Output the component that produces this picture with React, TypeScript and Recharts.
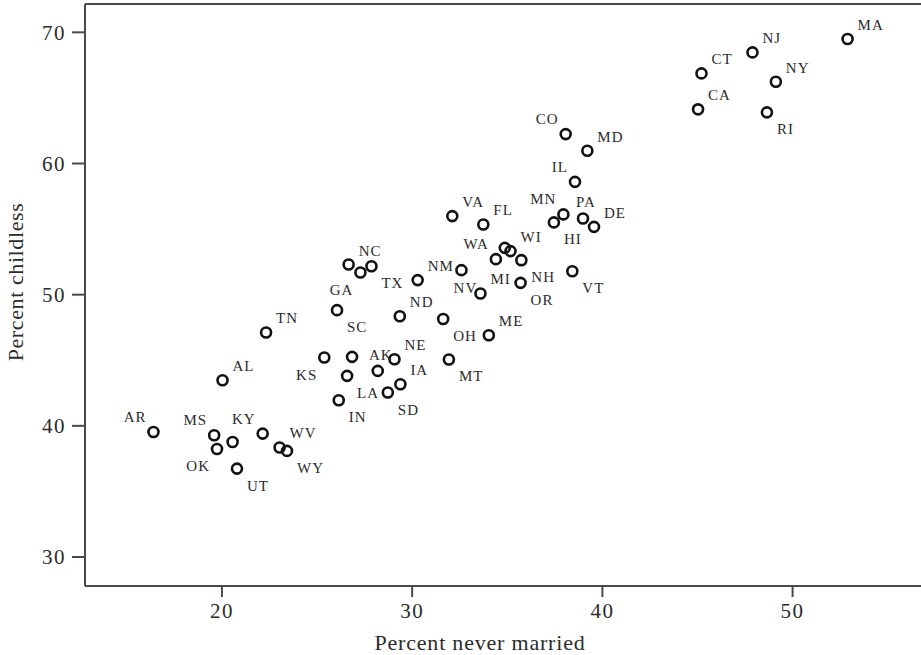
import { ScatterChart, Scatter, XAxis, YAxis, ReferenceLine } from "recharts";

// States (AZ, ID, MO are plotted without a label)
const STATES = [
  "MA", "NJ", "CT", "NY", "CA", "RI", "CO", "MD", "IL", "MN",
  "HI", "PA", "DE", "VT", "VA", "FL", "WA", "WI", "AZ", "NH",
  "OR", "NM", "NV", "MI", "TX", "NC", "GA", "SC", "ND", "OH",
  "ME", "TN", "KS", "MO", "NE", "AK", "MT", "LA", "IA", "SD",
  "IN", "AL", "AR", "MS", "OK", "ID", "KY", "WV", "WY", "UT",
];

const NEVER_MARRIED = [
  52.89, 47.89, 45.21, 49.12, 45.03, 48.65, 38.07, 39.21, 38.56, 37.95,
  37.45, 38.98, 39.56, 38.42, 32.11, 33.74, 34.4, 35.17, 34.87, 35.74,
  35.7, 30.29, 32.59, 33.59, 27.86, 26.66, 27.28, 26.05, 29.35, 31.63,
  34.03, 22.32, 25.38, 26.84, 29.07, 28.19, 31.93, 26.58, 29.38, 28.72,
  26.14, 20.03, 16.4, 19.59, 19.74, 20.56, 22.14, 23.03, 23.42, 20.79,
];

const CHILDLESS = [
  69.49, 68.47, 66.87, 66.23, 64.13, 63.9, 62.24, 60.97, 58.6, 56.12,
  55.51, 55.81, 55.17, 51.79, 55.99, 55.35, 52.71, 53.32, 53.57, 52.63,
  50.9, 51.11, 51.87, 50.09, 52.17, 52.3, 51.69, 48.82, 48.36, 48.15,
  46.91, 47.12, 45.21, 45.26, 45.08, 44.19, 45.06, 43.81, 43.17, 42.54,
  41.95, 43.48, 39.53, 39.28, 38.24, 38.77, 39.41, 38.35, 38.09, 36.74,
];

const X_TICKS = [20, 30, 40, 50];
const Y_TICKS = [30, 40, 50, 60, 70];
const X_DOMAIN = [12.8, 56.75];
const Y_DOMAIN = [27.79, 72.16];

// where each state's label sits relative to its circle
const LABEL_SIDE: Record<string, string> = {
  MA: "ur", NJ: "ur", CT: "ur", NY: "ur", CA: "ur", RI: "br", CO: "ul", MD: "ur",
  IL: "ul", MN: "ul", HI: "br", PA: "t", DE: "ur", VT: "br", VA: "ur", FL: "ur",
  WA: "ul", WI: "ur", NH: "br", OR: "br", NM: "ur", NV: "b", MI: "ur", TX: "br",
  NC: "ur", GA: "bl", SC: "br", ND: "ur", OH: "br", ME: "ur", TN: "ur", KS: "bl",
  NE: "ur", AK: "t", MT: "br", LA: "br", IA: "ur", SD: "br", IN: "br", AL: "ur",
  AR: "ul", MS: "ul", OK: "bl", KY: "ul", WV: "ur", WY: "br", UT: "br",
};

const data = STATES.map((s, i) => ({ state: s, x: NEVER_MARRIED[i], y: CHILDLESS[i] }));

const FONT = "'Liberation Serif', 'Times New Roman', serif";
const AXIS = "#4a4a4a";
const TEXT = "#2b2b2b";

const StatePoint = (props: any) => {
  const { cx, cy, payload } = props;
  const side = LABEL_SIDE[payload.state];
  let label = null;
  if (side) {
    let dx = 10, dy = -9, anchor = "start";
    if (side === "br") { dx = 10; dy = 22; }
    if (side === "ul") { dx = -7; dy = -10; anchor = "end"; }
    if (side === "bl") { dx = -7; dy = 22; anchor = "end"; }
    if (side === "t") { dx = 3; dy = -11; anchor = "middle"; }
    if (side === "b") { dx = 4; dy = 23; anchor = "middle"; }
    label = (
      <text
        x={cx + dx}
        y={cy + dy}
        textAnchor={anchor}
        fontSize={15}
        fontFamily={FONT}
        fill={TEXT}
        letterSpacing={1}
      >
        {payload.state}
      </text>
    );
  }
  return (
    <g>
      <circle cx={cx} cy={cy} r={5} fill="none" stroke="#111" strokeWidth={2.6} />
      {label}
    </g>
  );
};

const App = () => {
  return (
    <div style={{ position: "absolute", left: 0, top: 0, width: 921, height: 655, background: "#fff" }}>
      <ScatterChart width={921} height={655} margin={{ top: 4, right: 0, bottom: 0, left: 0 }}>
        <XAxis
          type="number"
          dataKey="x"
          domain={X_DOMAIN}
          ticks={X_TICKS}
          allowDataOverflow
          height={69}
          tickSize={11}
          tickMargin={6}
          axisLine={{ stroke: AXIS, strokeWidth: 2 }}
          tickLine={{ stroke: AXIS, strokeWidth: 2 }}
          tick={{ fontSize: 21, fill: TEXT, fontFamily: FONT, letterSpacing: 1.5 }}
          label={{
            content: () => (
              <text x={480} y={650} textAnchor="middle" fontSize={22} fontFamily={FONT} fill={TEXT} letterSpacing={0.8}>
                Percent never married
              </text>
            ),
          }}
        />
        <YAxis
          type="number"
          dataKey="y"
          domain={Y_DOMAIN}
          ticks={Y_TICKS}
          allowDataOverflow
          width={85}
          tickSize={13}
          tickMargin={6}
          axisLine={{ stroke: AXIS, strokeWidth: 2 }}
          tickLine={{ stroke: AXIS, strokeWidth: 2 }}
          tick={{ fontSize: 21, fill: TEXT, fontFamily: FONT, letterSpacing: 1.5 }}
          label={{
            content: () => (
              <text
                x={23}
                y={282}
                transform="rotate(-90, 23, 282)"
                textAnchor="middle"
                fontSize={22}
                fontFamily={FONT}
                fill={TEXT}
                letterSpacing={0.6}
              >
                Percent childless
              </text>
            ),
          }}
        />
        <ReferenceLine y={Y_DOMAIN[1]} stroke={AXIS} strokeWidth={2} />
        <Scatter data={data} shape={StatePoint} isAnimationActive={false} />
      </ScatterChart>
    </div>
  );
};

export default App;
